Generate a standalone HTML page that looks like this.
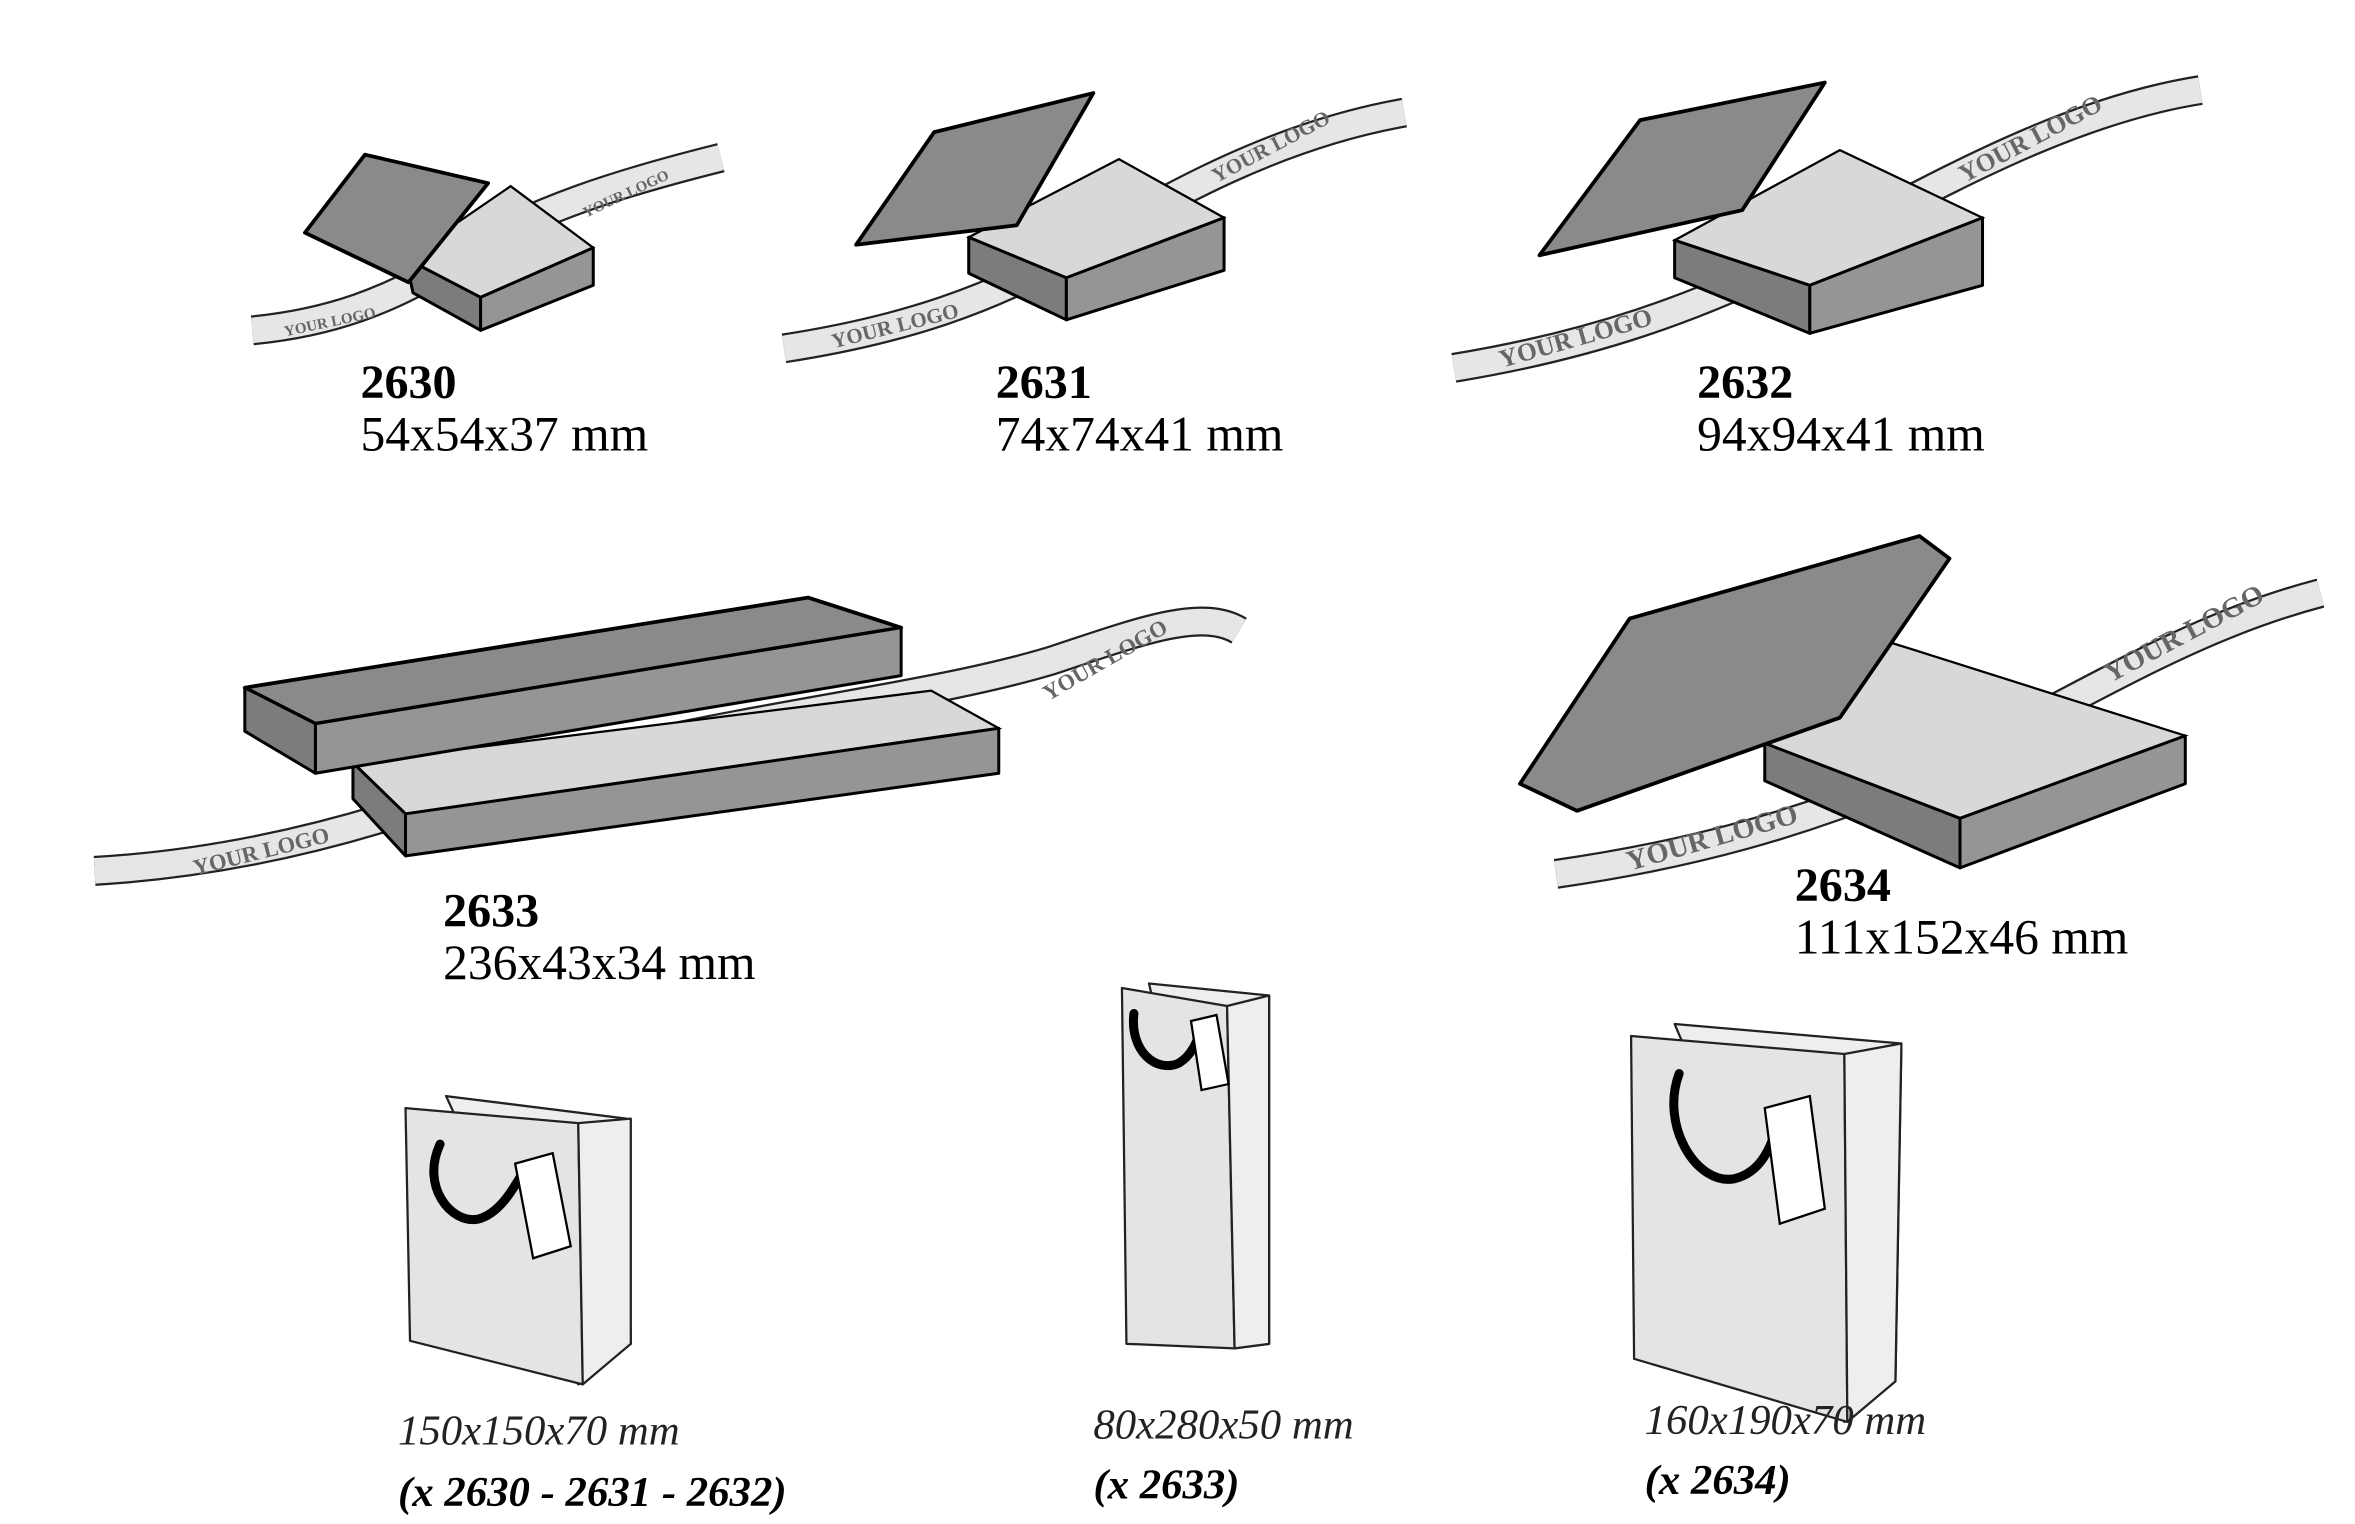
<!DOCTYPE html>
<html><head><meta charset="utf-8"><style>
html,body{margin:0;padding:0;background:#fff;}
svg{display:block;}
.n{font-family:"Liberation Serif",serif;font-weight:bold;font-size:32px;fill:#000;}
.d{font-family:"Liberation Serif",serif;font-size:33px;fill:#000;}
.i{font-family:"Liberation Serif",serif;font-style:italic;font-size:28.5px;fill:#222;}
.bi{font-family:"Liberation Serif",serif;font-style:italic;font-weight:bold;font-size:28.5px;fill:#000;}
.r{font-family:"Liberation Serif",serif;font-weight:bold;fill:#666;}
.lid{fill:#8a8a8a;stroke:#000;stroke-width:2.5;stroke-linejoin:round;}
.side{fill:#7c7c7c;stroke:#000;stroke-width:2;stroke-linejoin:round;}
.side2{fill:#959595;stroke:#000;stroke-width:2;stroke-linejoin:round;}
.in{fill:#d8d8d8;stroke:#000;stroke-width:1.5;}
.rb1{fill:none;stroke:#222;stroke-width:20;}
.rb2{fill:none;stroke:#e6e6e6;stroke-width:17;}
.bag{fill:#e4e4e4;stroke:#222;stroke-width:1.5;stroke-linejoin:round;}
.bags{fill:#eeeeee;stroke:#222;stroke-width:1.5;stroke-linejoin:round;}
.h{fill:none;stroke:#000;stroke-width:6;stroke-linecap:round;}
</style></head><body>
<svg width="2355" height="1524" viewBox="0 0 1568 1015" preserveAspectRatio="none" xmlns="http://www.w3.org/2000/svg">
<!-- 2630 -->
<path class="rb1" d="M168,220 C220,215 260,200 300,175 C350,140 420,120 480,105"/>
<path class="rb2" d="M168,220 C220,215 260,200 300,175 C350,140 420,120 480,105"/>
<text class="r" font-size="10" transform="translate(190,224) rotate(-12)">YOUR LOGO</text>
<text class="r" font-size="10" transform="translate(390,145) rotate(-25)">YOUR LOGO</text>
<polygon class="in" points="270,172 340,124 395,165 320,198"/>
<polygon class="side" points="270,172 320,198 320,220 275,195"/>
<polygon class="side2" points="320,198 395,165 395,190 320,220"/>
<polygon class="lid" points="203,155 243,103 325,122 272,188"/>
<!-- 2631 -->
<path class="rb1" d="M522,232 C600,220 660,200 720,165 C780,130 850,90 935,75"/>
<path class="rb2" d="M522,232 C600,220 660,200 720,165 C780,130 850,90 935,75"/>
<text class="r" font-size="14" transform="translate(555,232) rotate(-14)">YOUR LOGO</text>
<text class="r" font-size="14" transform="translate(810,122) rotate(-28)">YOUR LOGO</text>
<polygon class="in" points="645,158 745,106 815,145 710,185"/>
<polygon class="side" points="645,158 710,185 710,213 645,182"/>
<polygon class="side2" points="710,185 815,145 815,180 710,213"/>
<polygon class="lid" points="570,163 622,88 728,62 677,150"/>
<!-- 2632 -->
<path class="rb1" d="M968,245 C1060,230 1130,205 1200,170 C1280,130 1370,75 1465,60"/>
<path class="rb2" d="M968,245 C1060,230 1130,205 1200,170 C1280,130 1370,75 1465,60"/>
<text class="r" font-size="17" transform="translate(1000,245) rotate(-16)">YOUR LOGO</text>
<text class="r" font-size="17" transform="translate(1308,122) rotate(-28)">YOUR LOGO</text>
<polygon class="in" points="1115,160 1225,100 1320,145 1205,190"/>
<polygon class="side" points="1115,160 1205,190 1205,222 1115,185"/>
<polygon class="side2" points="1205,190 1320,145 1320,190 1205,222"/>
<polygon class="lid" points="1025,170 1092,80 1215,55 1160,140"/>
<!-- 2633 -->
<path class="rb1" d="M63,580 C150,575 230,555 300,530 C450,480 600,470 700,440 C760,420 800,405 825,420"/>
<path class="rb2" d="M63,580 C150,575 230,555 300,530 C450,480 600,470 700,440 C760,420 800,405 825,420"/>
<text class="r" font-size="15" transform="translate(130,583) rotate(-14)">YOUR LOGO</text>
<text class="r" font-size="15" transform="translate(698,467) rotate(-30)">YOUR LOGO</text>
<polygon class="in" points="235,508 620,460 665,485 270,542"/>
<polygon class="side" points="235,508 270,542 270,570 235,532"/>
<polygon class="side2" points="270,542 665,485 665,515 270,570"/>
<polygon class="lid" points="163,458 538,398 600,418 210,482"/>
<polygon class="side2" points="210,482 600,418 600,450 210,515"/>
<polygon class="side" points="163,458 210,482 210,515 163,487"/>
<!-- 2634 -->
<path class="rb1" d="M1036,582 C1120,570 1200,550 1290,510 C1380,470 1450,420 1545,395"/>
<path class="rb2" d="M1036,582 C1120,570 1200,550 1290,510 C1380,470 1450,420 1545,395"/>
<text class="r" font-size="19" transform="translate(1085,580) rotate(-16)">YOUR LOGO</text>
<text class="r" font-size="19" transform="translate(1405,455) rotate(-28)">YOUR LOGO</text>
<polygon class="in" points="1175,495 1240,422 1455,490 1305,545"/>
<polygon class="side" points="1175,495 1305,545 1305,578 1175,520"/>
<polygon class="side2" points="1305,545 1455,490 1455,522 1305,578"/>
<polygon class="lid" points="1012,522 1085,412 1278,357 1298,372 1225,478 1050,540"/>
<!-- bags -->
<polygon class="bags" points="297,730 417,745 420,895 385,922"/>
<polygon class="bag" points="270,738 385,748 388,922 273,893"/>
<polygon class="bags" points="385,748 420,745 420,895 388,922"/>
<path class="h" d="M293,762 C280,790 300,815 318,812 C335,808 345,785 350,778"/>
<polygon points="343,775 368,768 380,830 355,838" fill="#fff" stroke="#000" stroke-width="1.5"/>

<polygon class="bags" points="765,655 845,663 845,895 822,898"/>
<polygon class="bag" points="747,658 817,670 822,898 750,895"/>
<polygon class="bags" points="817,670 845,663 845,895 822,898"/>
<path class="h" d="M755,675 C752,700 770,715 785,708 C795,702 798,690 800,685"/>
<polygon points="793,680 810,676 818,722 800,726" fill="#fff" stroke="#000" stroke-width="1.5"/>

<polygon class="bags" points="1115,682 1266,695 1262,920 1228,947"/>
<polygon class="bag" points="1086,690 1228,702 1230,947 1088,905"/>
<polygon class="bags" points="1228,702 1266,695 1262,920 1230,947"/>
<path class="h" d="M1118,715 C1105,750 1130,790 1155,785 C1175,780 1180,760 1185,745"/>
<polygon points="1175,738 1205,730 1215,805 1185,815" fill="#fff" stroke="#000" stroke-width="1.5"/>
<!-- labels -->
<text class="n" x="240" y="265">2630</text><text class="d" x="240" y="300">54x54x37 mm</text>
<text class="n" x="663" y="265">2631</text><text class="d" x="663" y="300">74x74x41 mm</text>
<text class="n" x="1130" y="265">2632</text><text class="d" x="1130" y="300">94x94x41 mm</text>
<text class="n" x="295" y="617">2633</text><text class="d" x="295" y="652">236x43x34 mm</text>
<text class="n" x="1195" y="600">2634</text><text class="d" x="1195" y="635">111x152x46 mm</text>
<text class="i" x="265" y="962">150x150x70 mm</text><text class="bi" x="265" y="1003">(x 2630 - 2631 - 2632)</text>
<text class="i" x="728" y="958">80x280x50 mm</text><text class="bi" x="728" y="998">(x 2633)</text>
<text class="i" x="1095" y="955">160x190x70 mm</text><text class="bi" x="1095" y="995">(x 2634)</text>
</svg>
</body></html>
